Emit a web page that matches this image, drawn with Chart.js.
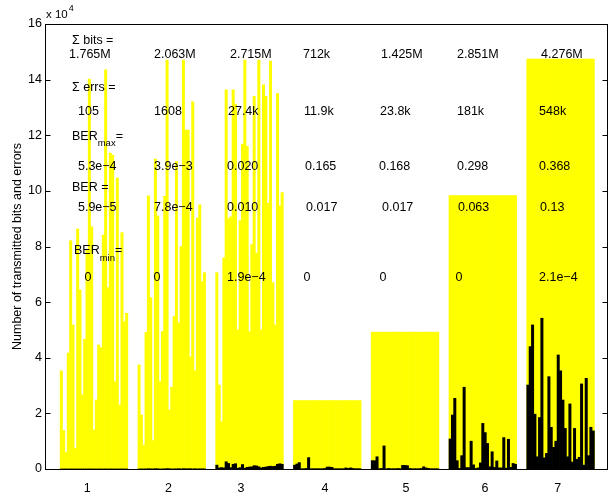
<!DOCTYPE html>
<html><head><meta charset="utf-8">
<script src="https://cdn.jsdelivr.net/npm/chart.js@4/dist/chart.umd.min.js"></script>
<style>html,body{margin:0;padding:0;background:#fff;}#wrap{width:616px;height:497px;}</style>
</head><body><div id="wrap"><canvas id="c" width="616" height="497"></canvas></div>
<script>
// ---- data (values in units of 10^4) ----
const groupLabels = ['1','2','3','4','5','6','7'];
const yTickLabels = ['0','2','4','6','8','10','12','14','16'];

const bits1 = [3.53,1.38,0.59,4.17,8.21,5.18,0.74,8.63,6.44,2.66,4.66,7.9,14.02,8.71,1.4,2.48,4.46,4.36,8.41,14.35,6.52,11.36,11.29,3.14,10.46,2.3,8.5,5.3,5.6];
const bits2 = [3.74,1.94,0.86,4.91,9.82,6.16,1.02,11.14,9.1,3.14,4.94,9.8,14.7,2.12,2.94,5.48,11.05,5.25,8.0,14.7,12.19,12.19,4.03,13.2,3.53,9.02,9.5,6.74,7.06];
const bits3 = [7.06,3.02,1.7,7.59,13.63,9.0,9.07,13.63,13.12,5.0,8.93,11.68,14.7,11.6,4.94,8.07,13.4,7.76,14.7,5.0,13.81,13.4,9.55,14.67,6.7,5.18,13.5,9.45,9.94];
const bits4 = [2.46,2.46,2.46,2.46,2.46,2.46,2.46,2.46,2.46,2.46,2.46,2.46,2.46,2.46,2.46,2.46,2.46,2.46,2.46,2.46,2.46,2.46,2.46,2.46,2.46,2.46,2.46,2.46,2.46];
const bits5 = [4.92,4.92,4.92,4.92,4.92,4.92,4.92,4.92,4.92,4.92,4.92,4.92,4.92,4.92,4.92,4.92,4.92,4.92,4.92,4.92,4.92,4.92,4.92,4.92,4.92,4.92,4.92,4.92,4.92];
const bits6 = [9.83,9.83,9.83,9.83,9.83,9.83,9.83,9.83,9.83,9.83,9.83,9.83,9.83,9.83,9.83,9.83,9.83,9.83,9.83,9.83,9.83,9.83,9.83,9.83,9.83,9.83,9.83,9.83,9.83];
const bits7 = [14.74,14.74,14.74,14.74,14.74,14.74,14.74,14.74,14.74,14.74,14.74,14.74,14.74,14.74,14.74,14.74,14.74,14.74,14.74,14.74,14.74,14.74,14.74,14.74,14.74,14.74,14.74,14.74,14.74];

const errs1 = [0,0,0,0,0.001,0,0,0,0.001,0,0,0,0.002,0.001,0,0,0,0.001,0,0.002,0,0.001,0.001,0,0.001,0,0.001,0,0];
const errs2 = [0.002,0.001,0.002,0.003,0.009,0.005,0.003,0.011,0.008,0.001,0.003,0.005,0.015,0.009,0.002,0.003,0.006,0.01,0.004,0.013,0.007,0.009,0.009,0.003,0.01,0.002,0.007,0.005,0.005];
const errs3 = [0.14,0.04,0.05,0.04,0.26,0.2,0.05,0.17,0.19,0.03,0.05,0.16,0.03,0.06,0.07,0.08,0.12,0.11,0.08,0.04,0.06,0.07,0.09,0.1,0.09,0.1,0.17,0.19,0.17];
const errs4 = [0.14,0.18,0.23,0.01,0.01,0.02,0.41,0.01,0.01,0.01,0.01,0.01,0.01,0.02,0.07,0.07,0.06,0.01,0.01,0.01,0.01,0.01,0.04,0.02,0.04,0.02,0.01,0.01,0.01];
const errs5 = [0.3,0.3,0.44,0.01,0.02,0.83,0.01,0.02,0.01,0.01,0.01,0.02,0.01,0.13,0.13,0.12,0.02,0.01,0.01,0.01,0.01,0.02,0.08,0.04,0.02,0.01,0.01,0.01,0.01];
const errs6 = [1.08,1.94,2.54,0.30,0.02,0.48,2.94,0.05,0.05,1.0,0.15,0.02,0.04,0.22,1.64,1.31,0.92,0.08,0.62,0.06,0.29,0.04,0.04,1.13,0.03,1.07,0.06,0.2,0.17];
const errs7 = [3.02,4.4,5.18,1.97,0.44,1.85,5.42,0.4,0.56,3.32,1.5,0.78,1.0,4.1,3.53,2.48,1.46,0.44,2.34,0.25,1.46,0.35,0.42,3.06,0.14,3.26,0.48,1.5,1.37];

const sumBits = ['1.765M','2.063M','2.715M','712k','1.425M','2.851M','4.276M'];
const sumErrs = ['105','1608','27.4k','11.9k','23.8k','181k','548k'];
const berMax  = ['5.3e\u22124','3.9e\u22123','0.020','0.165','0.168','0.298','0.368'];
const berAvg  = ['5.9e\u22125','7.8e\u22124','0.010','0.017','0.017','0.063','0.13'];
const berMin  = ['0','0','1.9e\u22124','0','0','0','2.1e\u22124'];

// ---- build points ----
const bitsGroups = [bits1,bits2,bits3,bits4,bits5,bits6,bits7];
const errsGroups = [errs1,errs2,errs3,errs4,errs5,errs6,errs7];
const BAR_STEP = 0.03;
function toPoints(groups){
  const pts = [];
  groups.forEach((arr,g)=>{
    const mid = (arr.length-1)/2;
    arr.forEach((v,j)=>pts.push({x: g+1+(j-mid)*BAR_STEP, y: v}));
  });
  return pts;
}

const FONT = '"Liberation Sans", Arial, Helvetica, sans-serif';

// layout of the group-number labels under the axis (data x)
const xLabelPos = [0.913,1.957,2.891,3.971,5.013,6.029,6.963];

// annotation layout (data coordinates)
const rowY = [14.89, 12.84, 10.86, 9.39, 6.87];
const rowX = [
  [0.679,1.772,2.749,3.688,4.691,5.668,6.749],
  [0.794,1.772,2.723,3.701,4.678,5.668,6.723],
  [0.794,1.772,2.711,3.714,4.665,5.668,6.723],
  [0.794,1.772,2.711,3.727,4.704,5.681,6.736],
  [0.878,1.765,2.711,3.694,4.672,5.649,6.723]
];
const rowText = [sumBits, sumErrs, berMax, berAvg, berMin];

const annot = {
  id:'annot',
  afterDatasetsDraw(chart){
    const {ctx, chartArea:a, scales:{x, y}} = chart;
    ctx.save();
    ctx.strokeStyle = '#000'; ctx.lineWidth = 1;
    const L = Math.round(a.left)+0.5, R = Math.round(a.right)-0.5, T = Math.round(a.top)+0.5, B = Math.round(a.bottom)+0.5;
    ctx.strokeRect(L, T, R-L, B-T);
    ctx.beginPath();
    y.ticks.forEach(t=>{
      const py = Math.round(y.getPixelForValue(t.value))+0.5;
      ctx.moveTo(L, py); ctx.lineTo(L+5, py);
      ctx.moveTo(R, py); ctx.lineTo(R-5, py);
    });
    ctx.stroke();
    ctx.fillStyle = '#000';
    ctx.textBaseline = 'middle'; ctx.textAlign = 'left';
    ctx.font = '11.5px ' + FONT;
    ctx.fillText('x 10', a.left+1, a.top-9);
    const w = ctx.measureText('x 10').width;
    ctx.font = '9px ' + FONT;
    ctx.fillText('4', a.left+2+w, a.top-15);
    const big = '12.5px ' + FONT, small = '9.5px ' + FONT;
    ctx.font = big;
    const px = v => x.getPixelForValue(v), py = v => y.getPixelForValue(v);
    ctx.fillText('\u03A3 bits =', px(0.717), py(15.42));
    ctx.fillText('\u03A3 errs =', px(0.717), py(13.73));
    ctx.fillText('BER =', px(0.717), py(10.11));
    function subText(main, sub, tail, xv, yv){
      let X = px(xv); const Y = py(yv);
      ctx.font = big; ctx.fillText(main, X, Y); X += ctx.measureText(main).width;
      ctx.font = small; ctx.fillText(sub, X, Y+7); X += ctx.measureText(sub).width;
      ctx.font = big; ctx.fillText(tail, X, Y);
    }
    subText('BER','max','=',0.717,11.97);
    subText('BER','min','=',0.743,7.84);
    ctx.font = big;
    rowText.forEach((arr,r)=>arr.forEach((s,g)=>{
      ctx.fillText(s, px(rowX[r][g]), py(rowY[r]));
    }));
    ctx.restore();
  }
};

new Chart(document.getElementById('c'), {
  type:'bar',
  data:{
    datasets:[
      {label:'errors', data: toPoints(errsGroups), backgroundColor:'#000000', borderWidth:0, order:0,
       grouped:false, barPercentage:1, categoryPercentage:1},
      {label:'bits', data: toPoints(bitsGroups), backgroundColor:'#ffff00', borderWidth:0, order:1,
       grouped:false, barPercentage:1, categoryPercentage:1}
    ]
  },
  options:{
    responsive:false, animation:false, devicePixelRatio:1,
    layout:{padding:{left:0, right:8, top:24, bottom:0}},
    plugins:{legend:{display:false}, tooltip:{enabled:false}},
    scales:{
      x:{
        type:'linear', min:0.37, max:7.61, offset:false,
        grid:{display:false, drawTicks:false, tickLength:0}, border:{display:false},
        afterBuildTicks: s => { s.ticks = xLabelPos.map(v=>({value:v})); },
        ticks:{autoSkip:false, maxRotation:0, padding:12, color:'#000', font:{family:FONT, size:12.5},
               callback:(v,i)=>groupLabels[i]},
        afterFit: s => { s.height = 28; }
      },
      y:{
        type:'linear', min:0, max:16,
        grid:{display:false, drawTicks:false, tickLength:0}, border:{display:false},
        ticks:{stepSize:2, padding:3, color:'#000', font:{family:FONT, size:12.5},
               callback:(v,i)=>yTickLabels[i]},
        title:{display:true, text:'Number of transmitted bits and errors', color:'#000',
               font:{family:FONT, size:12.5}, padding:{top:10, bottom:0}},
        afterFit: s => { s.width = 45; }
      }
    }
  },
  plugins:[annot]
});
</script>
</body></html>
